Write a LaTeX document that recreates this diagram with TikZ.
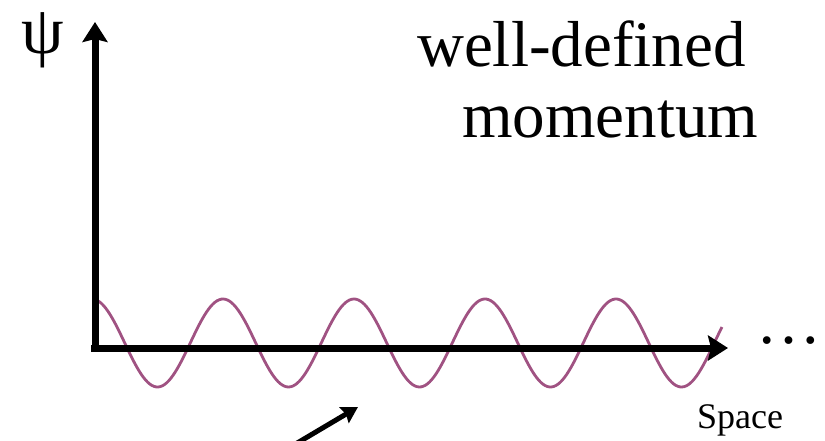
\documentclass[tikz,border=0pt]{standalone}
\usepackage{fontspec}
\setmainfont{Liberation Serif}
\usetikzlibrary{arrows.meta}

\definecolor{wavecol}{RGB}{160,82,130}

\begin{document}
\begin{tikzpicture}[
    x=1pt, y=-1pt,
    >={Stealth[length=20pt, width=25pt, inset=3pt]},
    axis/.style={->, line width=7pt, black},
    pointer/.style={->, line width=5pt, black, >={Stealth[length=16pt, width=18pt, inset=2pt]}},
    wave/.style={line width=2.8pt, wavecol},
    big/.style={inner sep=0pt, font=\fontsize{65}{71}\selectfont},
    small/.style={inner sep=0pt, font=\fontsize{36}{40}\selectfont}
]

    \useasboundingbox (0,0) rectangle (825,441);

    \def\xo{95}    
    \def\yo{348}  
    \def\lam{131} 
    \def\amp{44}  

    \coordinate (O) at (\xo, \yo+3.5);
    \coordinate (L) at (\xo-4, \yo);
    \coordinate (Ytop) at (\xo, 22);
    \coordinate (Xend) at (728, \yo);
    \coordinate (P0) at (250, 471);
    \coordinate (P1) at (358, 407);

    % the plane wave
    \draw[wave] plot[domain=93:722, samples=300, smooth]
        (\x, {343-\amp*cos((\x-92)/\lam*360)});

    \draw[axis] (O) -- (Ytop);
    \draw[axis] (L) -- (Xend);
    \draw[pointer] (P0) -- (P1);

    \node[big, anchor=base] (psi) at (43, 54) {\fontsize{68}{72}\selectfont ψ};
    \node[big, anchor=base west] (well) at (417, 67) {well-defined};
    \node[big, anchor=base west] (mom) at (462, 138) {momentum};
    \node[big, anchor=base] (dots) at (789, 343) {…};
    \node[small, anchor=base west] (space) at (697, 428) {Space};

\end{tikzpicture}
\end{document}
